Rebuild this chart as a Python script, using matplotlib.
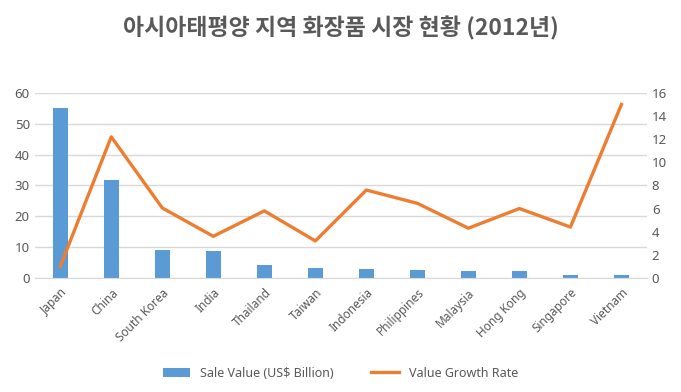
import matplotlib.pyplot as plt

plt.rcParams['font.family'] = ['Noto Sans', 'Noto Sans CJK KR', 'DejaVu Sans']

countries = ["Japan", "China", "South Korea", "India", "Thailand", "Taiwan",
             "Indonesia", "Philippines", "Malaysia", "Hong Kong", "Singapore", "Vietnam"]
sale_value = [55.0, 31.8, 9.0, 8.7, 4.2, 3.2, 3.0, 2.5, 2.2, 2.2, 1.0, 1.0]
growth_rate = [1.0, 12.2, 6.05, 3.6, 5.8, 3.2, 7.6, 6.45, 4.3, 6.0, 4.4, 15.0]

gray = '#595959'
blue = '#5b9bd5'
orange = '#ed7d31'

fig = plt.figure(figsize=(6.81, 3.92), dpi=100)
ax = fig.add_axes([0.051, 0.291, 0.899, 0.472])
ax2 = ax.twinx()

x = list(range(len(countries)))
bars = ax.bar(x, sale_value, width=0.3, color=blue, zorder=2, label='Sale Value (US$ Billion)')
line, = ax2.plot(x, growth_rate, color=orange, linewidth=2.4, label='Value Growth Rate')

ax.set_xlim(-0.5, len(countries) - 0.5)
ax.set_ylim(0, 60)
ax.set_yticks(range(0, 61, 10))
ax2.set_ylim(0, 16)
ax2.set_yticks(range(0, 17, 2))

ax.yaxis.grid(True, color='#d9d9d9', linewidth=1)
ax.set_axisbelow(True)
for a in (ax, ax2):
    for s in a.spines.values():
        s.set_visible(False)
    a.tick_params(length=0, colors=gray, labelsize=9.5)
ax.spines['bottom'].set_visible(True)
ax.spines['bottom'].set_color('#d9d9d9')

ax.set_xticks(x)
ax.set_xticklabels(countries, rotation=45, ha='right', rotation_mode='anchor', fontsize=8.5)
ax.tick_params(axis='x', pad=6)

fig.suptitle('아시아태평양 지역 화장품 시장 현황 (2012년)', x=0.5, y=0.958,
             fontsize=16.5, fontweight='bold', color=gray,
             family=['Noto Sans CJK KR', 'DejaVu Sans'])

fig.legend([bars, line], ['Sale Value (US$ Billion)', 'Value Growth Rate'],
           loc='center', bbox_to_anchor=(0.5, 0.048), ncol=2, frameon=False,
           fontsize=9, labelcolor=gray, handlelength=2.2, columnspacing=3)

fig.savefig('out.png', dpi=100)
